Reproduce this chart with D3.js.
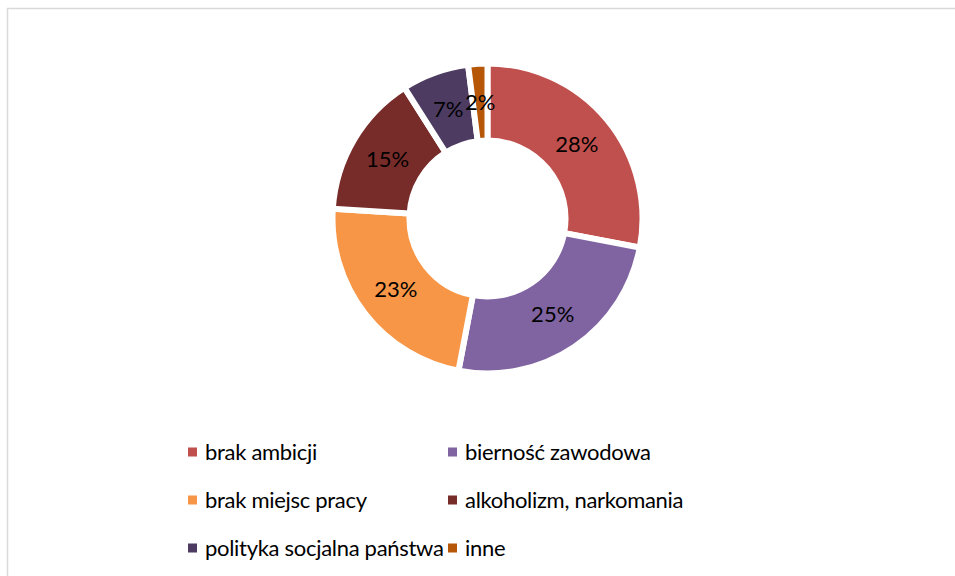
<!DOCTYPE html>
<html>
<head>
<meta charset="utf-8">
<script src="https://cdn.jsdelivr.net/npm/d3@7"></script>
<style>
  body { margin: 0; background: #fff; }
  svg { display: block; font-family: Lato, "Open Sans", sans-serif; }
</style>
</head>
<body>
<svg id="chart"></svg>
<script>
var width = 955, height = 576;

var categories = ["brak ambicji", "bierność zawodowa", "brak miejsc pracy",
                  "alkoholizm, narkomania", "polityka socjalna państwa", "inne"];
var values = [28, 25, 23, 15, 7, 2];
var colors = ["#c0504d", "#8064a2", "#f79646", "#772c2a", "#4d3b62", "#b65708"];

var cx = 487.5, cy = 218.5;
var outerR = 155, innerR = 78;

var svg = d3.select("#chart")
  .attr("width", width)
  .attr("height", height);

// chart area border (only top/left visible in the crop)
svg.append("rect")
  .attr("x", 7.5).attr("y", 8.5)
  .attr("width", 1000).attr("height", 1000)
  .attr("fill", "none")
  .attr("stroke", "#d9d9d9")
  .attr("stroke-width", 1.5);

var pie = d3.pie().sort(null).value(function(d) { return d; });
var arc = d3.arc().innerRadius(innerR).outerRadius(outerR);
var labelArc = d3.arc().innerRadius(116).outerRadius(116);

var g = svg.append("g").attr("transform", "translate(" + cx + "," + cy + ")");

var arcs = pie(values);

g.selectAll("path")
  .data(arcs)
  .enter().append("path")
  .attr("d", arc)
  .attr("fill", function(d, i) { return colors[i]; })
  .attr("stroke", "#fff")
  .attr("stroke-width", 6)
  .attr("stroke-linejoin", "miter");

g.selectAll("text.lbl")
  .data(arcs)
  .enter().append("text")
  .attr("class", "lbl")
  .attr("transform", function(d) { return "translate(" + labelArc.centroid(d) + ")"; })
  .attr("text-anchor", "middle")
  .attr("dy", "0.35em")
  .attr("font-size", 22)
  .attr("fill", "#000")
  .text(function(d) { return d.data + "%"; });

// legend
var colX = [188, 448];
var rowY = [452, 500, 548];
var legend = svg.append("g");
categories.forEach(function(name, i) {
  var x = colX[i % 2], y = rowY[Math.floor(i / 2)];
  legend.append("rect")
    .attr("x", x).attr("y", y - 4.5)
    .attr("width", 9).attr("height", 9)
    .attr("fill", colors[i]);
  legend.append("text")
    .attr("x", x + 17).attr("y", y)
    .attr("dy", "0.35em")
    .attr("font-size", 22)
    .attr("letter-spacing", -0.3)
    .attr("fill", "#000")
    .text(name);
});
</script>
</body>
</html>
